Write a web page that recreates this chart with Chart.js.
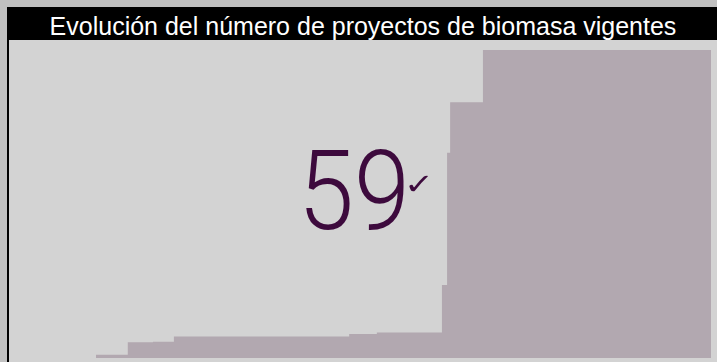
<!DOCTYPE html>
<html>
<head>
<meta charset="utf-8">
<script src="https://cdn.jsdelivr.net/npm/chart.js@4"></script>
<style>
	html, body { margin: 0; padding: 0; }
	body { width: 717px; height: 362px; background: #c0c0c0; position: relative; overflow: hidden; }
	#panel {
		position: absolute; left: 7px; top: 7px; width: 708px; height: 355px;
		border-left: 2px solid #000; background: #d3d3d3;
	}
	#title {
		height: 33px; line-height: 38px; background: #000; color: #fff;
		text-align: center; font-family: "Liberation Sans", Arial, sans-serif; font-size: 25px;
	}
	#chart-box { position: absolute; left: 0; top: 33px; width: 708px; height: 322px; }
	#kpi {
		position: absolute; left: 298px; top: 135px; color: #3d0a3d;
		font-family: Roboto, sans-serif; font-weight: 300; font-size: 112px; line-height: 1;
		transform: scaleX(0.9); transform-origin: left top; white-space: nowrap;
	}
	#tick {
		position: absolute; left: 404px; top: 170px; color: #3d0a3d;
		font-family: "DejaVu Sans", sans-serif; font-size: 36px; line-height: 1;
		transform: scaleY(0.8); transform-origin: left top;
	}
</style>
</head>
<body>
<div id="panel">
	<div id="title">Evolución del número de proyectos de biomasa vigentes</div>
	<div id="chart-box"><canvas id="biomasa-chart"></canvas></div>
</div>
<div id="kpi">59</div>
<div id="tick">✓</div>
<script>
// meses desde el primer proyecto registrado (estimado del gráfico)
const months = [0, 6.2, 11.1, 15.2, 49.4, 54.8, 67.5, 68.5, 69.1, 75.5, 120];
// proyectos vigentes en cada tramo
const projects = [0.6, 3, 3.1, 4.1, 4.6, 4.9, 14, 39.3, 49, 59, 59];

const points = months.map((m, i) => ({ x: m, y: projects[i] }));

const ctx = document.getElementById("biomasa-chart");

const chart = new Chart(ctx, {
	type: "line",
	data: {
		datasets: [
			{
				label: "proyectos",
				data: points,
				stepped: "before",
				fill: "origin",
				backgroundColor: "#b2a8b0",
				borderColor: "#b2a8b0",
				borderWidth: 0,
				pointRadius: 0,
			},
		],
	},
	options: {
		responsive: true,
		maintainAspectRatio: false,
		animation: false,
		layout: { padding: { left: 87, right: 6, top: 10, bottom: 4 } },
		plugins: { legend: { display: false }, tooltip: { enabled: false } },
		scales: {
			x: { type: "linear", min: 0, max: 120, display: false },
			y: { min: 0, max: 59, display: false },
		},
	},
});
</script>
</body>
</html>
